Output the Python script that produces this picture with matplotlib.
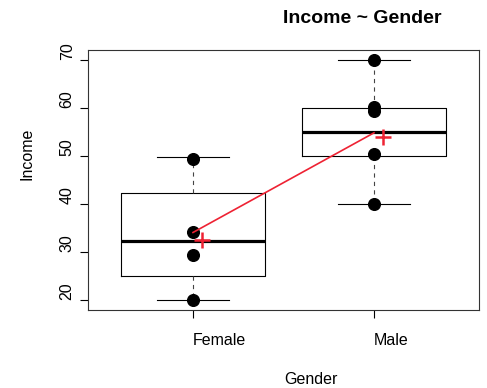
import numpy as np
import matplotlib
matplotlib.use("Agg")
import matplotlib.pyplot as plt

plt.rcParams['font.family'] = ['Liberation Sans', 'DejaVu Sans']

# groups and box statistics
groups = ["Female", "Male"]
q1 = [25.0, 50.0]
med = [32.3, 55.0]
q3 = [42.2, 60.0]
whislo = [20.0, 40.0]
whishi = [49.8, 70.0]

# raw observations per group
female_pts = [20.0, 29.5, 34.1, 49.3]
male_pts = [40.0, 50.5, 59.3, 60.2, 70.0]

# group means (red crosses) and the connecting line
means = [32.55, 54.0]
line_vals = [34.1, 54.8]

fig = plt.figure(figsize=(4.87, 3.88), dpi=100)
ax = fig.add_axes([88/487, 1-310/388, (479-88)/487, (310-50)/388])

stats = []
for i, g in enumerate(groups):
    stats.append(dict(label=g, q1=q1[i], med=med[i], q3=q3[i],
                      whislo=whislo[i], whishi=whishi[i], fliers=[]))

pos = np.arange(1, len(groups) + 1)
ax.bxp(stats, positions=pos, widths=0.8, showfliers=False,
       boxprops=dict(color='black', lw=0.8),
       medianprops=dict(color='black', lw=2.3, solid_capstyle='butt'),
       whiskerprops=dict(color='#444444', lw=0.8, linestyle=(0, (3.8, 3.8))),
       capprops=dict(color='black', lw=0.8), capwidths=0.4)

for p, vals in zip(pos, [female_pts, male_pts]):
    ax.plot([p] * len(vals), vals, 'o', color='black', ms=8.4, zorder=4)

ax.plot(pos, line_vals, color='#ee2233', lw=1.2, zorder=5)
ax.plot(pos + 0.05, means, '+', color='#ee2233', ms=11, mew=1.8, zorder=6)

ax.set_xlim(0.42, 2.58)
ax.set_ylim(18, 72)
ax.set_xticks(pos)
ax.set_xticklabels(groups, ha='left', fontsize=11.5)
ax.set_yticks([20, 30, 40, 50, 60, 70])
ax.set_yticklabels(['20', '30', '40', '50', '60', '70'], rotation=90,
                   va='bottom', ha='right', fontsize=11.5)
ax.tick_params(axis='x', length=6, width=0.8, pad=10.5)
ax.tick_params(axis='y', length=6, width=0.8, pad=3.6)
for s in ax.spines.values():
    s.set_linewidth(0.8)
    s.set_color('#333333')

fig.text(284/487, 1-383.5/388, "Gender", ha='left', va='baseline', fontsize=11.5)
fig.text(27/487, 1-180/388, "Income", rotation=90, ha='center', va='bottom',
         fontsize=11.5)
fig.text(283/487, 1-23/388, "Income ~ Gender", ha='left', va='baseline',
         fontsize=14, fontweight='bold')

fig.savefig("out.png", dpi=100)
